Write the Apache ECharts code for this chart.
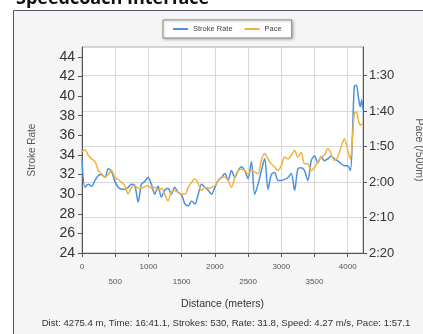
<!DOCTYPE html>
<html>
<head>
<meta charset="utf-8">
<script src="https://cdn.jsdelivr.net/npm/echarts@6/dist/echarts.min.js"></script>
<style>
  html, body { margin: 0; padding: 0; background: #fff; }
  #chart { width: 423px; height: 334px; }
</style>
</head>
<body>
<div id="chart"></div>
<script>
// Distance along the piece (m)
const distances = [0, 45, 95, 145, 195, 245, 295, 345, 395, 445, 495, 545, 595, 645, 695, 745, 795, 845, 895, 945,
  995, 1045, 1095, 1145, 1195, 1245, 1295, 1345, 1395, 1445, 1500, 1550, 1600, 1650, 1700, 1750, 1800, 1850, 1900, 1950,
  2000, 2050, 2100, 2150, 2200, 2250, 2300, 2350, 2400, 2450, 2500, 2550, 2600, 2650, 2700, 2750, 2800, 2850, 2900, 2950,
  3000, 3050, 3100, 3150, 3200, 3250, 3300, 3350, 3400, 3450, 3500, 3550, 3600, 3650, 3700, 3750, 3800, 3850, 3900, 3950,
  4000, 4040, 4070, 4100, 4130, 4160, 4190, 4210, 4230];

// Stroke rate (strokes/min)
const strokeRate = [33.6, 30.7, 31.0, 30.8, 31.4, 31.9, 32.0, 31.7, 32.6, 32.3, 31.3, 30.7, 30.5, 30.5, 30.7, 31.0, 30.9, 29.2, 31.0, 31.3,
  31.7, 31.0, 30.0, 30.8, 29.7, 30.4, 30.6, 30.0, 30.7, 30.2, 29.9, 29.0, 28.8, 29.3, 29.0, 30.0, 31.0, 30.7, 30.4, 30.0,
  30.7, 31.4, 31.7, 32.1, 31.4, 32.4, 31.7, 32.4, 32.8, 32.4, 31.6, 33.3, 30.0, 31.0, 32.4, 33.6, 30.5, 32.0, 32.2, 31.4,
  31.4, 31.5, 31.7, 32.1, 30.4, 32.6, 32.7, 32.4, 31.4, 33.4, 33.9, 33.2, 33.8, 33.4, 33.6, 33.9, 33.6, 33.4, 33.1, 32.9,
  32.9, 32.4, 35.8, 41.0, 41.1, 39.9, 38.9, 39.6, 38.6];

// Pace (seconds per 500 m)
const pace = [111.5, 110.9, 112.5, 113.5, 114.2, 116.8, 117.7, 118.7, 117.9, 116.8, 118.7, 119.3, 120.1, 121.0, 123.4, 121.5, 121.0, 121.8, 121.8, 121.3,
  121.0, 121.8, 121.5, 122.4, 121.8, 123.4, 125.3, 122.9, 122.4, 122.9, 123.4, 123.4, 121.5, 120.1, 119.1, 120.5, 122.4, 121.5, 121.8, 121.5,
  121.0, 119.6, 118.7, 118.7, 119.6, 121.5, 118.7, 116.8, 116.4, 116.8, 117.7, 116.8, 117.2, 117.7, 113.9, 112.0, 113.5, 114.9, 115.8, 116.8,
  115.4, 113.0, 113.5, 112.5, 111.1, 113.0, 111.6, 114.9, 114.9, 116.8, 115.8, 114.4, 113.0, 112.5, 110.6, 112.0, 113.9, 113.0, 110.2, 107.8,
  111.1, 113.5, 108.0, 100.7, 100.3, 102.6, 104.0, 103.8, 103.5];

// Tick values
const distanceTicks = [0, 500, 1000, 1500, 2000, 2500, 3000, 3500, 4000];
const rateTicks = [24, 26, 28, 30, 32, 34, 36, 38, 40, 42, 44];
const paceTicks = [90, 100, 110, 120, 130, 140];

const summary = 'Dist: 4275.4 m, Time: 16:41.1, Strokes: 530, Rate: 31.8, Speed: 4.27 m/s, Pace: 1:57.1';

function fmtPace(sec) {
  const m = Math.floor(sec / 60);
  const s = Math.round(sec - m * 60);
  return m + ':' + (s < 10 ? '0' : '') + s;
}

const rateData = distances.map((d, i) => [d, strokeRate[i]]);
const paceData = distances.map((d, i) => [d, pace[i]]);

const FONT = '"Liberation Sans", Arial, sans-serif';
const axisLineStyle = { color: '#555', width: 1 };

const chart = echarts.init(document.getElementById('chart'), null, { renderer: 'canvas' });
chart.setOption({
  animation: false,
  backgroundColor: '#fff',
  textStyle: { fontFamily: FONT },
  graphic: [
    {
      type: 'rect', z: -10, silent: true,
      shape: { x: 13.5, y: 10.5, width: 430, height: 340 },
      style: { fill: '#f5f5f5', stroke: '#4f5a70', lineWidth: 1 }
    },
    {
      type: 'text', left: 16, top: -10, silent: true,
      style: { text: 'Speedcoach Interface', font: 'bold 18px "Open Sans", sans-serif', fill: '#111' }
    },
    {
      type: 'text', silent: true,
      style: { x: 226, y: 323, text: summary, font: '9.6px ' + FONT, fill: '#333', align: 'center', verticalAlign: 'middle' }
    }
  ],
  legend: {
    left: 163, top: 20,
    width: 129,
    padding: [5, 10, 5, 10],
    itemGap: 12,
    itemWidth: 15, itemHeight: 2,
    icon: 'rect',
    backgroundColor: '#fff',
    borderColor: '#888', borderWidth: 1,
    shadowColor: 'rgba(0,0,0,0.25)', shadowBlur: 3, shadowOffsetX: 1, shadowOffsetY: 1,
    textStyle: { fontSize: 7.5, color: '#444', fontFamily: FONT },
    data: ['Stroke Rate', 'Pace']
  },
  grid: {
    left: 82, right: 60, top: 47, bottom: 81,
    outerBoundsMode: 'none',
    containLabel: false,
    show: true, backgroundColor: '#fff', borderColor: '#aaa', borderWidth: 1
  },
  xAxis: {
    type: 'value', min: 0, max: 4230, interval: 500,
    name: 'Distance (meters)', nameLocation: 'middle', nameGap: 46,
    nameTextStyle: { fontSize: 10.5, color: '#333' },
    axisLine: { show: true, lineStyle: axisLineStyle },
    axisTick: { show: true, length: 4, inside: false, customValues: distanceTicks, lineStyle: axisLineStyle },
    axisLabel: {
      customValues: distanceTicks,
      fontSize: 8, color: '#555', margin: 6, lineHeight: 15,
      formatter: v => (v % 1000 === 0 ? String(v) : '\n' + v)
    },
    splitLine: { show: true, lineStyle: { color: '#d8d8d8', width: 1 } }
  },
  yAxis: [
    {
      type: 'value', position: 'left', min: 24, max: 45,
      name: 'Stroke Rate', nameLocation: 'middle', nameGap: 45, nameRotate: 90,
      nameTextStyle: { fontSize: 10, color: '#555' },
      axisLine: { show: true, lineStyle: axisLineStyle },
      axisTick: { show: true, length: 4, customValues: rateTicks, lineStyle: axisLineStyle },
      axisLabel: { customValues: rateTicks, fontSize: 14, color: '#333', margin: 7 },
      splitLine: { show: false }
    },
    {
      type: 'value', position: 'right', min: 82, max: 140, inverse: true,
      name: 'Pace (/500m)', nameLocation: 'middle', nameGap: 50, nameRotate: -90,
      nameTextStyle: { fontSize: 10.5, color: '#555' },
      axisLine: { show: true, lineStyle: axisLineStyle },
      axisTick: { show: true, length: 4, customValues: paceTicks, lineStyle: axisLineStyle },
      axisLabel: { customValues: paceTicks, fontSize: 13, color: '#333', margin: 6, formatter: v => fmtPace(v) },
      splitLine: { show: true, lineStyle: { color: '#d8d8d8', width: 1 } }
    }
  ],
  series: [
    {
      name: 'Stroke Rate', type: 'line', yAxisIndex: 0, data: rateData,
      smooth: 0.3, showSymbol: false,
      lineStyle: { color: '#4a90e2', width: 1.5 }, itemStyle: { color: '#4a90e2' }
    },
    {
      name: 'Pace', type: 'line', yAxisIndex: 1, data: paceData,
      smooth: 0.3, showSymbol: false,
      lineStyle: { color: '#f3b23e', width: 1.5 }, itemStyle: { color: '#f3b23e' }
    }
  ]
});
</script>
</body>
</html>
